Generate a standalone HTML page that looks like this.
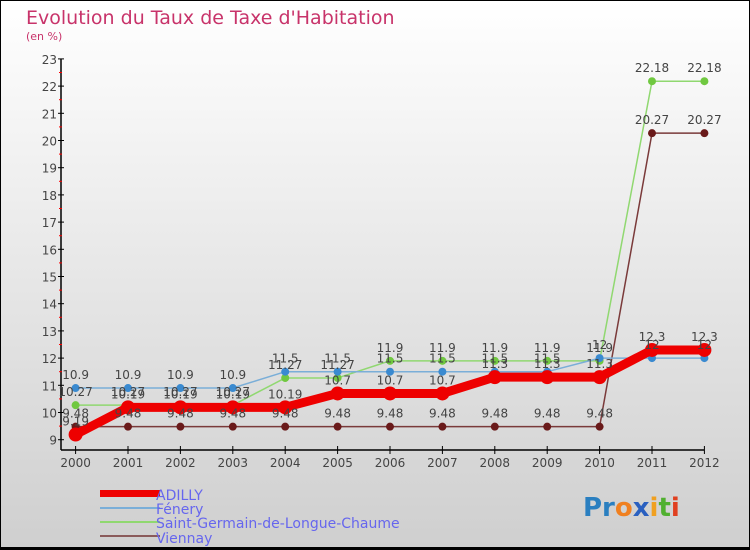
<!DOCTYPE html>
<html><head><meta charset="utf-8"><style>
body{margin:0}
#c{width:750px;height:550px;position:relative;overflow:hidden;box-sizing:border-box;border:1px solid #000;border-bottom:3px solid #000;background:linear-gradient(#ffffff,#cfcfcf);font-family:"DejaVu Sans","Liberation Sans",sans-serif}
</style></head><body>
<div id="c">
<svg id="s" width="750" height="550" style="position:absolute;left:-1px;top:-1px">
<text x="26" y="24" font-size="19" fill="#c8336a">Evolution du Taux de Taxe d'Habitation</text>
<text x="26" y="40" font-size="11" fill="#c8336a">(en %)</text>
<g id="ax"></g><g id="series"></g><g id="labels"></g>
<g>
<rect x="100" y="490" width="60" height="7" fill="#ee0000"/>
<text x="156" y="500" font-size="14" fill="#6666ee">ADILLY</text>
<rect x="100" y="507" width="60" height="2" fill="#7aaed8"/>
<text x="156" y="514" font-size="14" fill="#6666ee">Fénery</text>
<rect x="100" y="521" width="60" height="2" fill="#90d870"/>
<text x="156" y="528" font-size="14" fill="#6666ee">Saint-Germain-de-Longue-Chaume</text>
<rect x="100" y="535" width="60" height="2" fill="#8a5a5a"/>
<text x="156" y="543" font-size="14" fill="#6666ee">Viennay</text>
</g>
<text x="583" y="516" font-size="26" font-weight="bold"><tspan fill="#2a7fc0">Pr</tspan><tspan fill="#f08020">o</tspan><tspan fill="#2a60c0">x</tspan><tspan fill="#f0a020">i</tspan><tspan fill="#50b030">t</tspan><tspan fill="#e04020">i</tspan></text>
</svg></div>
<script>
const years=["2000","2001","2002","2003","2004","2005","2006","2007","2008","2009","2010","2011","2012"];
const yTicks=[9,10,11,12,13,14,15,16,17,18,19,20,21,22,23];
const adilly=[9.19,10.19,10.19,10.19,10.19,10.7,10.7,10.7,11.3,11.3,11.3,12.3,12.3];
const fenery=[10.9,10.9,10.9,10.9,11.5,11.5,11.5,11.5,11.5,11.5,12,12,12];
const saintGermain=[10.27,10.27,10.27,10.27,11.27,11.27,11.9,11.9,11.9,11.9,11.9,22.18,22.18];
const viennay=[9.48,9.48,9.48,9.48,9.48,9.48,9.48,9.48,9.48,9.48,9.48,20.27,20.27];
const NS="http://www.w3.org/2000/svg";
const X=i=>75.6+i*52.4, Y=v=>439.7-(v-9)*27.2;
function mk(p,t,a){const e=document.createElementNS(NS,t);for(const k in a)e.setAttribute(k,a[k]);p.appendChild(e);return e;}
const ax=document.getElementById('ax');
let l=mk(ax,'line',{x1:61,y1:Y(23),x2:61,y2:450,stroke:'#000','stroke-width':1.5});


l=mk(ax,'line',{x1:61,y1:450,x2:X(12),y2:450,stroke:'#000','stroke-width':1.5});


yTicks.forEach(v=>{
 mk(ax,'line',{x1:58,y1:Y(v),x2:64,y2:Y(v),stroke:'#000'});
 if(v<23) mk(ax,'line',{x1:59,y1:Y(v+0.5),x2:62,y2:Y(v+0.5),stroke:'#f00'});
 const t=mk(ax,'text',{x:57,y:Y(v)+5,'font-size':12,'text-anchor':'end',fill:'#444'});t.textContent=v;
 
 
});
years.forEach((y,i)=>{
 mk(ax,'line',{x1:X(i),y1:446,x2:X(i),y2:454,stroke:'#000'});
 const t=mk(ax,'text',{x:X(i),y:467,'font-size':12,'text-anchor':'middle',fill:'#444'});t.textContent=y;
 
 
});
const S=document.getElementById('series'),L=document.getElementById('labels');
function series(d,name,col,w,r,dot){
 const g=mk(S,'g',{});
 
 
 mk(g,'polyline',{points:d.map((v,i)=>X(i)+','+Y(v)).join(' '),fill:'none',stroke:col,'stroke-width':w,'stroke-linejoin':'round'});
 d.forEach((v,i)=>{
  const c=mk(g,'circle',{cx:X(i),cy:Y(v),r:r,fill:dot});
  
  
  const t=mk(L,'text',{x:X(i),y:Y(v)-9,'font-size':12,'text-anchor':'middle',fill:'#444'});t.textContent=v;
  
  
 });
}
series(viennay,'viennay','#7a3a3a',1.5,4,'#6a1a1a');
series(saintGermain,'saint-germain','#90d870',1.5,4,'#70c840');
series(fenery,'fenery','#7aaed8',1.5,4,'#3a8ad0');
series(adilly,'adilly','#ee0000',9,7,'#ee0000');
</script>
</body></html>
